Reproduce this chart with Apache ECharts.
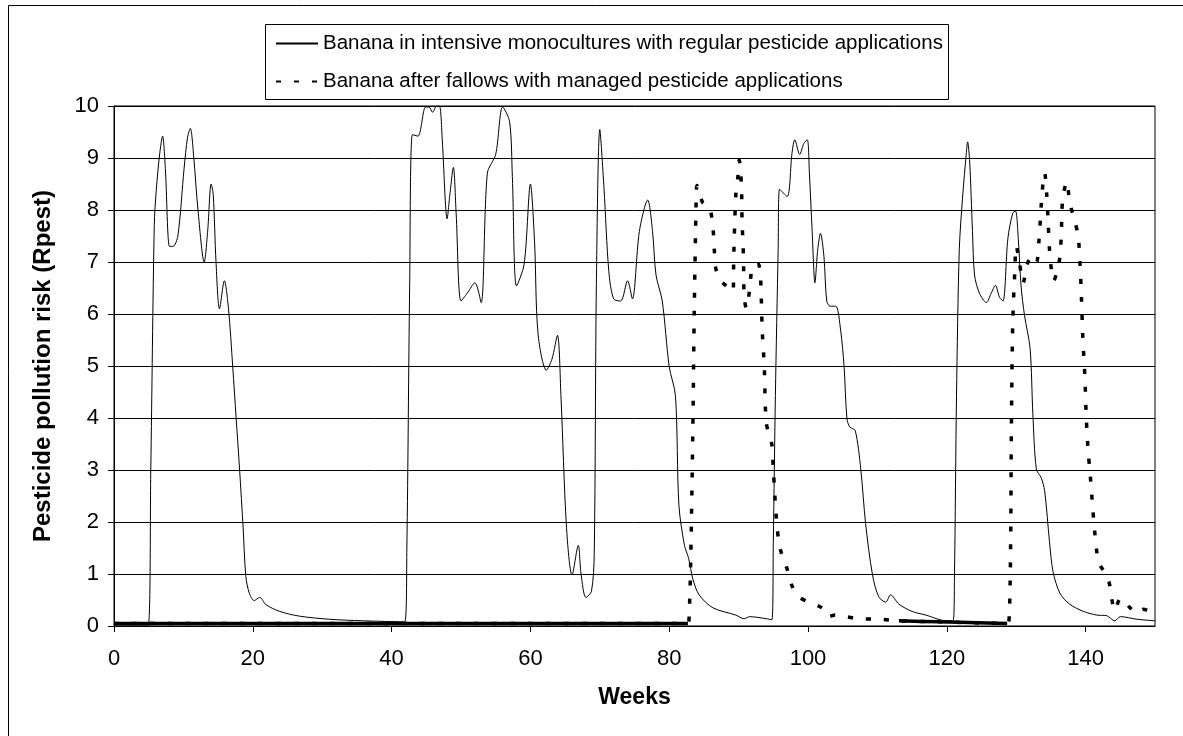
<!DOCTYPE html>
<html><head><meta charset="utf-8">
<script src="https://cdn.jsdelivr.net/npm/echarts/dist/echarts.min.js"></script>
<style>html,body{margin:0;padding:0;background:#fff}#c{width:1183px;height:736px}</style>
</head><body><div id="c"></div>
<script>
const seriesNames = [
  'Banana in intensive monocultures with regular pesticide applications',
  'Banana after fallows with managed pesticide applications'
];
const xTicks = [0, 20, 40, 60, 80, 100, 120, 140];
const yTicks = [0, 1, 2, 3, 4, 5, 6, 7, 8, 9, 10];

// Solid series (weeks, Rpest)
const solidWeeks = [0,4.9,5.3,5.8,6.1,6.6,7.0,7.4,8.0,8.5,9.2,10.1,10.6,11.0,11.5,12.1,13.0,13.5,14.0,14.3,14.7,15.2,15.9,16.5,17.1,17.6,18.1,18.6,19.0,19.5,20.2,21.0,21.9,23.9,26.7,31,35.8,41.9,42.2,42.6,43.0,43.8,44.9,45.4,45.9,46.5,46.9,47.3,48.0,48.4,48.9,49.3,50.0,50.9,52.0,52.9,53.8,55.0,56.0,57.0,57.4,58.0,59.1,60.0,60.6,61.1,62.3,63.1,63.9,64.4,65.2,66.0,66.9,67.3,68.0,68.8,69.2,69.5,70.0,70.6,71.3,72.0,73.0,74.0,74.7,75.7,76.9,77.6,78.1,79.0,80.0,80.9,81.4,82.2,82.8,83.4,84.3,86.3,89.6,90.8,91.6,94.0,94.8,95.0,95.3,95.7,95.9,97.0,97.7,98.1,98.8,99.4,99.9,100.2,100.6,101.0,101.4,101.8,102.3,102.7,103.2,104.0,104.7,105.2,105.6,106.0,106.8,107.6,108.3,109.3,110.2,111.2,111.9,113.1,115.0,117.0,119.9,120.9,121.1,121.4,121.8,122.3,122.8,123.0,123.3,123.7,124.0,124.7,125.7,126.4,127.0,127.6,128.1,128.8,129.5,129.9,130.3,130.7,131.2,132.0,132.4,132.9,133.6,134.1,134.8,135.3,136.3,137.7,139.7,141.6,143.0,144.2,145.0,147.4,150];
const solidValues = [0,0,3,7.7,8.4,9.1,9.42,8.8,7.3,7.3,7.5,8.8,9.4,9.57,9.0,8.0,7.0,7.6,8.5,8.3,7.0,6.1,6.64,6.1,5.0,4.0,3.0,1.9,0.95,0.63,0.49,0.55,0.41,0.28,0.19,0.13,0.1,0.08,1.5,6.5,9.45,9.42,9.98,9.98,9.88,10.0,10.0,9.35,7.83,8.3,8.82,7.94,6.25,6.4,6.6,6.22,8.71,9.07,9.98,9.7,8.64,6.54,6.96,8.5,7.38,5.62,4.92,5.13,5.59,4.43,1.9,0.98,1.55,1.0,0.55,0.67,1.4,6.5,9.55,8.43,6.82,6.29,6.25,6.64,6.29,7.59,8.19,7.59,6.75,6.25,4.99,4.43,2.32,1.55,1.3,0.91,0.6,0.35,0.21,0.14,0.18,0.14,0.12,1.6,4.43,7.24,8.4,8.26,9.1,9.35,9.07,9.28,9.35,8.71,7.59,6.6,7.24,7.55,7.1,6.25,6.15,6.15,5.69,4.99,4.0,3.83,3.76,3.02,1.97,0.98,0.56,0.46,0.6,0.42,0.28,0.21,0.1,0.1,0.91,4.43,7.24,8.29,9.07,9.31,8.92,7.59,6.75,6.4,6.22,6.4,6.55,6.32,6.25,7.45,7.94,7.98,7.45,6.54,5.97,5.34,4.08,3.02,2.85,2.6,1.62,1.05,0.63,0.42,0.28,0.21,0.2,0.1,0.18,0.13,0.1];

// Dashed series (weeks, Rpest)
const dashedWeeks = [0,82.7,82.9,83.1,83.4,83.6,83.8,83.9,84.0,84.8,85.8,86.3,86.5,86.7,87.2,88.2,89.2,89.3,89.6,89.9,90.1,90.4,90.5,90.7,90.8,91.1,91.6,92.0,92.8,93.1,93.3,93.4,93.7,94.0,94.8,95.0,95.5,96.0,97.0,97.7,98.7,100.1,102.0,103.0,103.9,105.4,107.3,110.2,113.1,118.9,128.7,129.0,129.2,129.3,129.5,129.8,130.0,130.5,131.0,131.6,132.2,132.9,133.3,133.6,133.9,134.1,134.4,134.6,134.8,135.1,135.4,135.9,136.3,136.5,136.7,137.3,137.7,138.2,138.9,139.2,139.4,139.6,139.9,140.1,140.4,140.6,141.0,141.3,141.8,142.3,143.0,143.5,143.9,144.2,145.0,145.7,146.4,147.4,148.3,150];
const dashedValues = [0.05,0.05,0.3,1.26,3.72,5.97,7.59,8.26,8.47,8.15,8.05,7.66,7.24,6.89,6.68,6.54,6.43,7.1,8.29,8.64,8.96,8.5,7.8,7.1,6.36,6.11,6.47,6.92,6.96,6.82,6.18,5.69,4.99,3.9,3.48,3.02,1.97,1.48,1.09,0.77,0.56,0.46,0.35,0.18,0.21,0.18,0.14,0.13,0.1,0.08,0.05,0.2,1.62,3.72,5.83,6.82,7.31,6.96,6.6,6.96,7.1,6.99,7.45,8.08,8.57,8.71,8.29,7.8,7.24,6.82,6.64,6.82,7.1,7.52,8.22,8.54,8.15,7.9,7.52,6.96,6.32,5.55,4.78,4.0,3.3,3.02,2.32,1.83,1.26,1.12,1.0,0.77,0.42,0.3,0.53,0.46,0.35,0.25,0.32,0.22];

// Near-zero stretches of the dashed series, where the marks merge into a continuous band
const baseAWeeks = [0, 82.7];
const baseAValues = [0.05, 0.05];
const baseBWeeks = [113.1, 118.9, 128.7];
const baseBValues = [0.1, 0.08, 0.05];

const zip = (xs, ys) => xs.map((x, i) => [x, ys[i]]);
const FONT = "'Liberation Sans', Arial, sans-serif";

const chart = echarts.init(document.getElementById('c'));
chart.setOption({
  animation: false,
  backgroundColor: '#fff',
  graphic: [
    { type: 'rect', silent: true, shape: { x: 8.5, y: 5.5, width: 1200, height: 800 },
      style: { fill: 'none', stroke: '#000', lineWidth: 1 } },
    { type: 'rect', silent: true, shape: { x: 265.5, y: 24.5, width: 683, height: 75 },
      style: { fill: '#fff', stroke: '#000', lineWidth: 1 }, z: -1 }
  ],
  legend: {
    orient: 'vertical', left: 270, top: 28,
    data: seriesNames,
    itemWidth: 42, itemHeight: 12, itemGap: 17,
    itemStyle: { opacity: 0 },
    textStyle: { fontSize: 20.5, fontFamily: FONT, color: '#000' }
  },
  grid: { left: 114, right: 28, top: 106, bottom: 110, show: true, borderColor: '#000', borderWidth: 1, containLabel: false },
  xAxis: {
    type: 'value', min: xTicks[0], max: 150, interval: 20,
    axisLine: { show: true, lineStyle: { color: '#000', width: 1 } },
    axisTick: { show: true, inside: false, length: 6, lineStyle: { color: '#000' } },
    axisLabel: { fontSize: 22, color: '#000', fontFamily: FONT, margin: 22, showMaxLabel: false },
    splitLine: { show: false },
    name: 'Weeks', nameLocation: 'middle', nameGap: 60,
    nameTextStyle: { fontSize: 23, fontWeight: 'bold', color: '#000', fontFamily: FONT }
  },
  yAxis: {
    type: 'value', min: yTicks[0], max: yTicks[yTicks.length - 1], interval: 1,
    axisLine: { show: true, lineStyle: { color: '#000', width: 1 } },
    axisTick: { show: true, inside: false, length: 6, lineStyle: { color: '#000' } },
    axisLabel: { fontSize: 22, color: '#000', fontFamily: FONT, margin: 15 },
    splitLine: { show: true, lineStyle: { color: '#000', width: 1 } },
    name: 'Pesticide pollution risk (Rpest)', nameLocation: 'middle', nameGap: 59,
    nameTextStyle: { fontSize: 24, fontWeight: 'bold', color: '#000', fontFamily: FONT }
  },
  series: [
    { name: seriesNames[0], type: 'line', data: zip(solidWeeks, solidValues),
      symbol: 'none', smooth: 0.3, z: 2,
      lineStyle: { color: '#000', width: 1 }, itemStyle: { color: '#000' } },
    { name: seriesNames[1], type: 'line', data: zip(dashedWeeks, dashedValues),
      symbol: 'none', smooth: 0.3, z: 3,
      lineStyle: { color: '#000', width: 3.5, type: [5, 13] }, itemStyle: { color: '#000' } },
    { name: seriesNames[1], type: 'line', data: zip(baseAWeeks, baseAValues),
      symbol: 'none', z: 3, lineStyle: { color: '#000', width: 3.5 }, itemStyle: { color: '#000' } },
    { name: seriesNames[1], type: 'line', data: zip(baseBWeeks, baseBValues),
      symbol: 'none', smooth: 0.3, z: 3, lineStyle: { color: '#000', width: 3.5 }, itemStyle: { color: '#000' } }
  ]
});
</script>
</body></html>
